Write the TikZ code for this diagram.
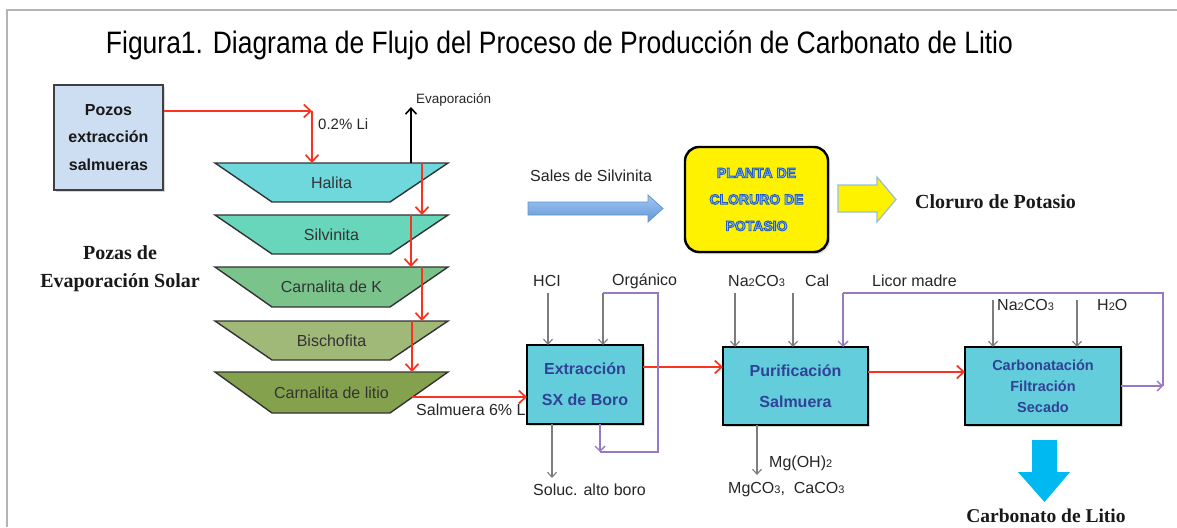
\documentclass[tikz,border=0pt]{standalone}
\usepackage{fontspec}
\setmainfont{Liberation Serif}
\newfontfamily\arial{Liberation Sans}
\usetikzlibrary{arrows.meta,shadows,calc}
\pgfdeclarelayer{background}
\pgfsetlayers{background,main}
\definecolor{framec}{RGB}{180,180,180}
\definecolor{rd}{RGB}{250,50,30}
\definecolor{gr}{RGB}{125,125,125}
\definecolor{pu}{RGB}{150,120,195}
\definecolor{chal}{RGB}{110,216,220}
\definecolor{csil}{RGB}{104,214,186}
\definecolor{ccar}{RGB}{122,196,140}
\definecolor{cbis}{RGB}{160,184,120}
\definecolor{clit}{RGB}{132,162,78}
\definecolor{cbox}{RGB}{100,205,220}
\definecolor{btxt}{RGB}{48,66,150}
\definecolor{pozf}{RGB}{205,221,242}
\definecolor{ptxt}{RGB}{150,200,225}
\definecolor{sbl1}{RGB}{160,200,240}
\definecolor{sbl2}{RGB}{100,150,215}
\definecolor{sbld}{RGB}{100,150,210}
\definecolor{ylb}{RGB}{150,190,220}
\definecolor{bigb}{RGB}{0,185,240}
\newcommand{\myss}[1]{{\fontsize{11}{11}\selectfont #1}}
\newcommand{\outlon}{\special{pdf:literal direct 2 Tr 0.9 w 0.12 0.35 0.78 RG}}
\newcommand{\outloff}{\special{pdf:literal direct 0 Tr}}
\begin{document}
\begin{tikzpicture}[x=1pt,y=-1pt,
  lab/.style={font=\arial\fontsize{16}{18}\selectfont, text=black!85, inner sep=0pt, anchor=west},
  serifb/.style={font=\bfseries\fontsize{20}{28}\selectfont, text=black!90, inner sep=0pt, align=center},
  trapnode/.style={minimum width=233pt, inner sep=0pt, outer sep=0pt, font=\arial\fontsize{16}{18}\selectfont, text=black!80},
  trap/.style={draw=black!80, line width=1.4pt},
  procbox/.style={draw=black, line width=2.6pt, fill=cbox, inner sep=0pt, outer sep=0pt, align=center,
     text=btxt, font=\arial\bfseries\fontsize{16}{31}\selectfont,
     drop shadow={shadow xshift=2pt, shadow yshift=-2pt, opacity=0.3}},
  redarr/.style={draw=rd, line width=1.7pt, -{Straight Barb[length=7pt,width=13pt,line width=1.7pt]}},
  grayarr/.style={draw=gr, line width=1.1pt, -{Straight Barb[length=5pt,width=9pt,line width=1.1pt]}},
  purp/.style={draw=pu, line width=1.4pt},
  purparr/.style={draw=pu, line width=1.4pt, -{Straight Barb[length=5pt,width=10pt,line width=1.4pt]}},
  blackarr/.style={draw=black, line width=1.6pt, -{Straight Barb[length=6pt,width=11pt,line width=1.6pt]}}
]
\useasboundingbox (0,0) rectangle (1177,527);
\begin{pgfonlayer}{background}
\fill[white] (0,0) rectangle (1177,527);
\end{pgfonlayer}
\draw[framec, line width=2pt] (7,527) -- (7,10) -- (1177,10);

% title
\node[inner sep=0pt, anchor=base] (title) at (559.5,54)
  {\resizebox{907pt}{\height}{\arial\fontsize{31}{32}\selectfont Figura1. Diagrama de Flujo del Proceso de Producción de Carbonato de Litio}};

% pozos
\node[draw=black!75, line width=2pt, fill=pozf, minimum width=109pt, minimum height=105pt, inner sep=0pt,
  align=center, font=\arial\bfseries\fontsize{16}{27.5}\selectfont, text=black!90,
  drop shadow={shadow xshift=2pt, shadow yshift=-2pt, opacity=0.3}] (pozos) at (108.5,137.5)
  {Pozos\\extracción\\salmueras};

% trapezoids
\node[trapnode, minimum height=39pt] (hal) at (331.5,182.5) {Halita};
\node[trapnode, minimum height=39pt] (sil) at (331.5,234.5) {Silvinita};
\node[trapnode, minimum height=40pt] (car) at (331.5,287) {Carnalita de K};
\node[trapnode, minimum height=39pt] (bis) at (331.5,340.5) {Bischofita};
\node[trapnode, minimum height=41pt] (lit) at (331.5,392.5) {Carnalita de litio};
\begin{pgfonlayer}{background}
\foreach \n/\c in {hal/chal, sil/csil, car/ccar, bis/cbis, lit/clit}
  \draw[trap, fill=\c] (\n.north west) -- (\n.north east) -- ([xshift=-58pt]\n.south east) -- ([xshift=57pt]\n.south west) -- cycle;
\end{pgfonlayer}

\node[serifb] (pozas) at (120,269) {Pozas de\\Evaporación Solar};

% pozos -> halita
\coordinate (bend) at (312,111);
\draw[redarr] ([yshift=26.5pt]pozos.east) -- (bend);
\draw[redarr] (bend) -- (hal.north -| bend);
\node[lab, font=\arial\fontsize{15}{17}\selectfont] (li02) at (318,124) {0.2\% Li};

% evaporacion
\coordinate (evtop) at (411,107);
\draw[blackarr] (hal.north -| evtop) -- (evtop);
\node[lab, font=\arial\fontsize{13.5}{15}\selectfont] (evap) at (416,100) {Evaporación};

% cascade
\draw[redarr] ([xshift=207pt]hal.north west) -- ([xshift=207pt]sil.north west);
\draw[redarr] ([xshift=196pt]sil.north west) -- ([xshift=196pt]car.north west);
\draw[redarr] ([xshift=207pt]car.north west) -- ([xshift=207pt]bis.north west);
\draw[redarr] ([xshift=197pt]bis.north west) -- ([xshift=197pt]lit.north west);

% salmuera label (behind box)
\node[lab] (salm) at (416,410) {Salmuera 6\% Li};

% process boxes
\node[procbox, minimum width=116pt, minimum height=79pt] (ext) at (585,384.5) {Extracción\\SX de Boro};
\node[procbox, minimum width=145pt, minimum height=78pt] (pur) at (795.5,386) {Purificación\\Salmuera};
\node[procbox, minimum width=156pt, minimum height=78pt, font=\arial\bfseries\fontsize{14.5}{21}\selectfont] (carb) at (1043,386) {Carbonatación\\Filtración\\Secado};

\draw[redarr] ([xshift=80.5pt,yshift=-4.5pt]lit.center) -- ([yshift=-12.5pt]ext.west);
\draw[redarr] ([yshift=17.5pt]ext.east) -- ([yshift=19pt]pur.west);
\draw[redarr] ([yshift=14pt]pur.east) -- ([yshift=14pt]carb.west);

% planta cloruro
\node[draw=black, line width=2.4pt, fill=yellow, rounded corners=14pt, minimum width=143pt, minimum height=105pt,
  inner sep=0pt, align=center, text=ptxt, font=\arial\bfseries\fontsize{14}{26.5}\selectfont,
  drop shadow={shadow xshift=2pt, shadow yshift=-2pt, opacity=0.3}] (planta) at (756.5,199.5)
  {\outlon PLANTA DE\\\outlon CLORURO DE\\\outlon POTASIO\outloff};
\node[lab] (sales) at (530,175.5) {Sales de Silvinita};
\node[serifb, anchor=west] (clk) at (915,202) {Cloruro de Potasio};

% block arrows
\shade[top color=sbl1, bottom color=sbl2, draw=sbld, line width=0.8pt]
  (528,202) -- (648,202) -- (648,195) -- (663,208.5) -- (648,222) -- (648,215) -- (528,215) -- cycle;
\draw[fill=yellow, draw=ylb, line width=1.2pt]
  (838,185) -- (877,185) -- (877,177) -- (896,199.5) -- (877,222) -- (877,212) -- (838,212) -- cycle;
\fill[bigb] (1032,440) -- (1057,440) -- (1057,472) -- (1070,472) -- (1044.5,502) -- (1018,472) -- (1032,472) -- cycle;

% top labels
\node[lab] (hcl) at (533,281) {HCI};
\node[lab] (org) at (612,281) {Orgánico};
\node[lab] (na1) at (728,281) {Na\myss{2}CO\myss{3}};
\node[lab] (cal) at (805,281) {Cal};
\node[lab] (licor) at (872,281) {Licor madre};
\node[lab] (na2) at (997,305) {Na\myss{2}CO\myss{3}};
\node[lab] (h2o) at (1097,305) {H\myss{2}O};

% gray inputs
\coordinate (hcls) at (548,293);
\coordinate (orgs) at (603,293);
\coordinate (na1s) at (735,293);
\coordinate (cals) at (793,293);
\coordinate (na2s) at (993,300);
\coordinate (h2os) at (1077,300);
\draw[grayarr] (hcls) -- (ext.north -| hcls);
\draw[grayarr] (orgs) -- (ext.north -| orgs);
\draw[grayarr] (na1s) -- (pur.north -| na1s);
\draw[grayarr] (cals) -- (pur.north -| cals);
\draw[grayarr] (na2s) -- (carb.north -| na2s);
\draw[grayarr] (h2os) -- (carb.north -| h2os);

% organic loop
\coordinate (lb) at (600,452);
\draw[purp] (orgs) -- (658,293) -- (658,452) -- (lb);
\draw[purparr] (ext.south -| lb) -- (lb);

% licor madre loop
\coordinate (lm1) at (843,293);
\coordinate (lm2) at (1163,293);
\coordinate (lm3) at (1163,386);
\draw[purp] (lm1) -- (lm2) -- (lm3);
\draw[purparr] (lm1) -- (pur.north -| lm1);
\draw[purparr] (carb.east |- lm3) -- (lm3);

% outputs
\coordinate (sab) at (552,478);
\coordinate (mgb) at (757,475);
\draw[grayarr] (ext.south -| sab) -- (sab);
\draw[grayarr] (pur.south -| mgb) -- (mgb);
\node[lab] (soluc) at (533,490) {Soluc. alto boro};
\node[lab] (mgoh) at (769,463) {Mg(OH)\myss{2}};
\node[lab] (mgco) at (728,490) {MgCO\myss{3},\ \ CaCO\myss{3}};

\node[serifb, font=\bfseries\fontsize{19.5}{24}\selectfont] (cli) at (1046,516) {Carbonato de Litio};
\end{tikzpicture}
\end{document}
